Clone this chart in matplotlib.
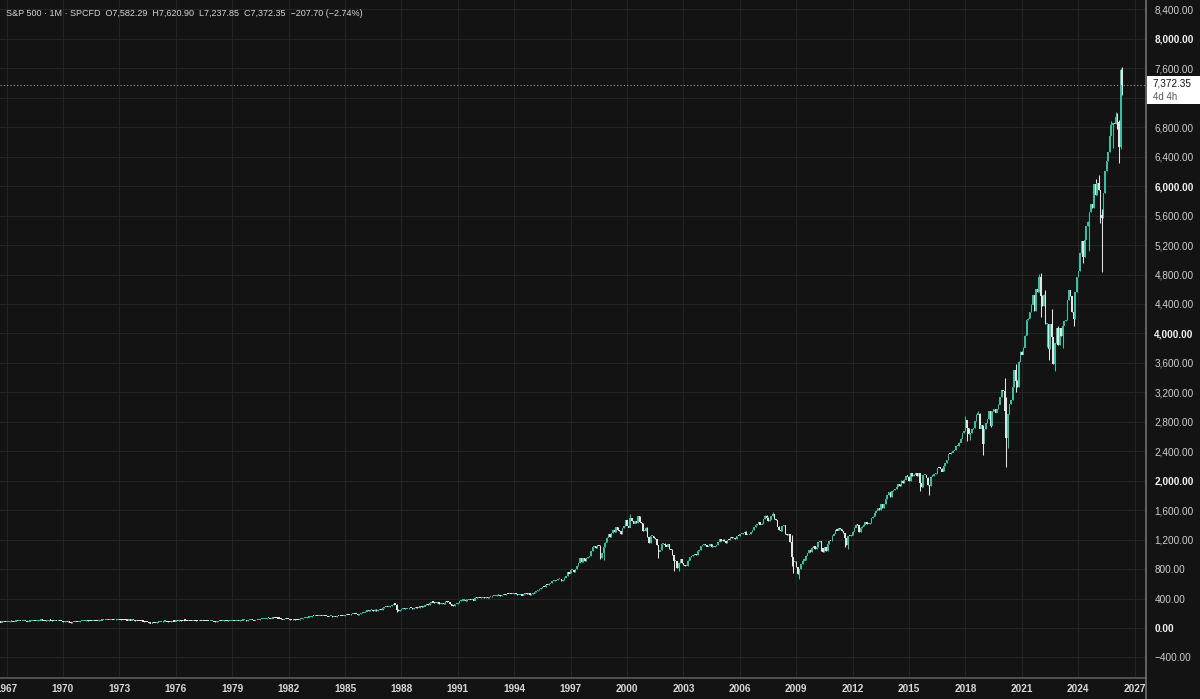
import numpy as np
import pandas as pd
import matplotlib
matplotlib.use('Agg')
import matplotlib.pyplot as plt
from matplotlib.patches import Rectangle
from matplotlib.lines import Line2D

plt.rcParams['font.family'] = ['Liberation Sans', 'DejaVu Sans']

# S&P 500 monthly closes, Aug 1966 .. May 2026
first_open = 83.60
close_1960s = [77.10, 76.56, 80.20, 80.45, 80.33,
               86.61, 86.78, 90.20, 94.01, 89.08, 90.64, 94.75, 93.64, 96.71, 93.90, 94.00, 96.47,
               92.24, 89.36, 90.20, 97.59, 98.68, 99.58, 97.74, 98.86, 102.67, 103.41, 108.37, 103.86,
               103.01, 98.13, 101.51, 103.69, 103.46, 97.71, 91.83, 95.51, 93.12, 97.24, 93.81, 92.06]
close_1970s = [85.02, 89.50, 89.63, 81.52, 76.55, 72.72, 78.05, 81.52, 84.21, 83.25, 87.20, 92.15,
               95.88, 96.75, 100.31, 103.95, 99.63, 98.70, 95.58, 99.03, 98.34, 94.23, 93.99, 102.09,
               103.94, 106.57, 107.20, 107.67, 109.53, 107.14, 107.39, 111.09, 110.55, 111.58, 116.67, 118.05,
               116.03, 111.68, 111.52, 106.97, 104.95, 104.26, 108.22, 104.25, 108.43, 108.29, 95.96, 97.55,
               96.57, 96.22, 93.98, 90.31, 87.28, 86.00, 79.31, 72.15, 63.54, 73.90, 69.97, 68.56,
               76.98, 81.59, 83.36, 87.30, 91.15, 95.19, 88.75, 86.88, 83.87, 89.04, 91.24, 90.19,
               100.86, 99.71, 102.77, 101.64, 100.18, 104.28, 103.44, 102.91, 105.24, 102.90, 102.10, 107.46,
               102.03, 99.82, 98.42, 98.44, 96.12, 100.48, 98.85, 96.77, 96.53, 92.34, 94.83, 95.10,
               89.25, 87.04, 89.21, 96.83, 97.24, 95.53, 100.68, 103.29, 102.54, 93.15, 94.70, 96.11,
               99.93, 96.28, 101.59, 101.76, 99.08, 102.91, 103.81, 109.32, 109.32, 101.82, 106.16, 107.94]
close_1980s = [114.16, 113.66, 102.09, 106.29, 111.24, 114.24, 121.67, 122.38, 125.46, 127.47, 140.52, 135.76,
               129.55, 131.27, 136.00, 132.81, 132.59, 131.21, 130.92, 122.79, 116.18, 121.89, 126.35, 122.55,
               120.40, 113.11, 111.96, 116.44, 111.88, 109.61, 107.09, 119.51, 120.42, 133.71, 138.54, 140.64,
               145.30, 148.06, 152.96, 164.42, 162.39, 168.11, 162.56, 164.40, 166.07, 163.55, 166.40, 164.93,
               163.41, 157.06, 159.18, 160.05, 150.55, 153.18, 150.66, 166.68, 166.10, 166.09, 163.58, 167.24,
               179.63, 181.18, 180.66, 179.83, 189.55, 191.85, 190.92, 188.63, 182.08, 189.82, 202.17, 211.28,
               211.78, 226.92, 238.90, 235.52, 247.35, 250.84, 236.12, 252.93, 231.32, 243.98, 249.22, 242.17,
               274.08, 284.20, 291.70, 288.36, 290.10, 304.00, 318.66, 329.80, 321.83, 251.79, 230.30, 247.08,
               257.07, 267.82, 258.89, 261.33, 262.16, 273.50, 272.02, 261.52, 271.91, 278.97, 273.70, 277.72,
               297.47, 288.86, 294.87, 309.64, 320.52, 317.98, 346.08, 351.45, 349.15, 340.36, 345.99, 353.40]
close_1990s = [329.08, 331.89, 339.94, 330.80, 361.23, 358.02, 356.15, 322.56, 306.05, 304.00, 322.22, 330.22,
               343.93, 367.07, 375.22, 375.35, 389.83, 371.16, 387.81, 395.43, 387.86, 392.46, 375.22, 417.09,
               408.79, 412.70, 403.69, 414.95, 415.35, 408.14, 424.21, 414.03, 417.80, 418.68, 431.35, 435.71,
               438.78, 443.38, 451.67, 440.19, 450.19, 450.53, 448.13, 463.56, 458.93, 467.83, 461.79, 466.45,
               481.61, 467.14, 445.77, 450.91, 456.50, 444.27, 458.26, 475.49, 462.69, 472.35, 453.69, 459.27,
               470.42, 487.39, 500.71, 514.71, 533.40, 544.75, 562.06, 561.88, 584.41, 581.50, 605.37, 615.93,
               636.02, 640.43, 645.50, 654.17, 669.12, 670.63, 639.95, 651.99, 687.33, 705.27, 757.02, 740.74,
               786.16, 790.82, 757.12, 801.34, 848.28, 885.14, 954.29, 899.47, 947.28, 914.62, 955.40, 970.43,
               980.28, 1049.34, 1101.75, 1111.75, 1090.82, 1133.84, 1120.67, 957.28, 1017.01, 1098.67, 1163.63, 1229.23,
               1279.64, 1238.33, 1286.37, 1335.18, 1301.84, 1372.71, 1328.72, 1320.41, 1282.71, 1362.93, 1388.91, 1469.25]
close_2000s = [1394.46, 1366.42, 1498.58, 1452.43, 1420.60, 1454.60, 1430.83, 1517.68, 1436.51, 1429.40, 1314.95, 1320.28,
               1366.01, 1239.94, 1160.33, 1249.46, 1255.82, 1224.42, 1211.23, 1133.58, 1040.94, 1059.78, 1139.45, 1148.08,
               1130.20, 1106.73, 1147.39, 1076.92, 1067.14, 989.82, 911.62, 916.07, 815.28, 885.76, 936.31, 879.82,
               855.70, 841.15, 848.18, 916.92, 963.59, 974.50, 990.31, 1008.01, 995.97, 1050.71, 1058.20, 1111.92,
               1131.13, 1144.94, 1126.21, 1107.30, 1120.68, 1140.84, 1101.72, 1104.24, 1114.58, 1130.20, 1173.82, 1211.92,
               1181.27, 1203.60, 1180.59, 1156.85, 1191.50, 1191.33, 1234.18, 1220.33, 1228.81, 1207.01, 1249.48, 1248.29,
               1280.08, 1280.66, 1294.87, 1310.61, 1270.09, 1270.20, 1276.66, 1303.82, 1335.85, 1377.94, 1400.63, 1418.30,
               1438.24, 1406.82, 1420.86, 1482.37, 1530.62, 1503.35, 1455.27, 1473.99, 1526.75, 1549.38, 1481.14, 1468.36,
               1378.55, 1330.63, 1322.70, 1385.59, 1400.38, 1280.00, 1267.38, 1282.83, 1166.36, 968.75, 896.24, 903.25,
               825.88, 735.09, 797.87, 872.81, 919.14, 919.32, 987.48, 1020.62, 1057.08, 1036.19, 1095.63, 1115.10]
close_2010s = [1073.87, 1104.49, 1169.43, 1186.69, 1089.41, 1030.71, 1101.60, 1049.33, 1141.20, 1183.26, 1180.55, 1257.64,
               1286.12, 1327.22, 1325.83, 1363.61, 1345.20, 1320.64, 1292.28, 1218.89, 1131.42, 1253.30, 1246.96, 1257.60,
               1312.41, 1365.68, 1408.47, 1397.91, 1310.33, 1362.16, 1379.32, 1406.58, 1440.67, 1412.16, 1416.18, 1426.19,
               1498.11, 1514.68, 1569.19, 1597.57, 1630.74, 1606.28, 1685.73, 1632.97, 1681.55, 1756.54, 1805.81, 1848.36,
               1782.59, 1859.45, 1872.34, 1883.95, 1923.57, 1960.23, 1930.67, 2003.37, 1972.29, 2018.05, 2067.56, 2058.90,
               1994.99, 2104.50, 2067.89, 2085.51, 2107.39, 2063.11, 2103.84, 1972.18, 1920.03, 2079.36, 2080.41, 2043.94,
               1940.24, 1932.23, 2059.74, 2065.30, 2096.95, 2098.86, 2173.60, 2170.95, 2168.27, 2126.15, 2198.81, 2238.83,
               2278.87, 2363.64, 2362.72, 2384.20, 2411.80, 2423.41, 2470.30, 2471.65, 2519.36, 2575.26, 2647.58, 2673.61,
               2823.81, 2713.83, 2640.87, 2648.05, 2705.27, 2718.37, 2816.29, 2901.52, 2913.98, 2711.74, 2760.17, 2506.85,
               2704.10, 2784.49, 2834.40, 2945.83, 2752.06, 2941.76, 2980.38, 2926.46, 2976.74, 3037.56, 3140.98, 3230.78]
close_2020s = [3225.52, 2954.22, 2584.59, 2912.43, 3044.31, 3100.29, 3271.12, 3500.31, 3363.00, 3269.96, 3621.63, 3756.07,
               3714.24, 3811.15, 3972.89, 4181.17, 4204.11, 4297.50, 4395.26, 4522.68, 4307.54, 4605.38, 4567.00, 4766.18,
               4515.55, 4373.94, 4530.41, 4131.93, 4132.15, 3785.38, 4130.29, 3955.00, 3585.62, 3871.98, 4080.11, 3839.50,
               4076.60, 3970.15, 4109.31, 4169.48, 4179.83, 4450.38, 4588.96, 4507.66, 4288.05, 4193.80, 4567.80, 4769.83,
               4845.65, 5096.27, 5254.35, 5035.69, 5277.51, 5460.48, 5522.30, 5648.40, 5762.48, 5705.45, 6032.38, 5881.63,
               6040.53, 5954.50, 5611.85, 5569.06, 5911.69, 6204.95, 6339.39, 6460.26, 6688.46, 6840.20, 6849.09, 6845.50,
               6939.00, 6880.00, 6530.00, 7580.05, 7372.35]

# visible wicks of notable months (high / low)
wick_high = {'1987-10': 328.94, '2000-03': 1552.87, '2007-10': 1576.09, '2008-10': 1264.80,
             '2018-01': 2872.87, '2018-09': 2940.91, '2020-02': 3393.52, '2020-03': 3136.72,
             '2020-09': 3588.11, '2021-11': 4743.83, '2021-12': 4808.93, '2022-01': 4818.62,
             '2022-04': 4593.45, '2022-08': 4325.28, '2022-12': 4100.96, '2024-12': 6099.97,
             '2025-02': 6147.43, '2025-04': 5695.31, '2025-10': 6890.89, '2026-01': 7002.00,
             '2026-02': 6990.00, '2026-03': 6900.00, '2026-04': 7600.00, '2026-05': 7620.90}
wick_low = {'1987-10': 216.46, '1998-08': 939.98, '1998-10': 923.32, '2001-09': 944.75,
            '2002-07': 775.68, '2002-10': 768.63, '2008-10': 839.80, '2008-11': 741.02,
            '2009-03': 666.79, '2010-05': 1040.78, '2011-08': 1101.54, '2011-10': 1074.77,
            '2015-08': 1867.01, '2016-02': 1810.10, '2018-02': 2532.69, '2018-04': 2553.80,
            '2018-12': 2346.58, '2019-05': 2728.81, '2020-02': 2855.84, '2020-03': 2191.86,
            '2020-04': 2447.49, '2020-09': 3209.45, '2021-09': 4305.91, '2022-01': 4222.62,
            '2022-05': 3810.32, '2022-06': 3636.87, '2022-09': 3584.13, '2022-10': 3491.58,
            '2023-03': 3808.86, '2023-10': 4103.78, '2024-04': 4953.56, '2024-08': 5119.26,
            '2025-03': 5504.65, '2025-04': 4835.04, '2025-11': 6521.92, '2026-02': 6770.00,
            '2026-03': 6316.00, '2026-04': 6500.00, '2026-05': 7237.85}

y_ticks = list(range(-400, 8401, 400))
x_ticks = list(range(1967, 2028, 3))

up_col = '#3cbea1'
down_col = '#e4e4e4'
bg = '#131313'

closes = np.array(close_1960s + close_1970s + close_1980s + close_1990s + close_2000s + close_2010s + close_2020s)
dates = pd.date_range('1966-08-01', periods=len(closes), freq='MS')
x = np.asarray(dates.year + (dates.month - 1) / 12.0)
opens = np.r_[first_open, closes[:-1]]
highs = np.maximum(opens, closes)
lows = np.minimum(opens, closes)
keys = dates.strftime('%Y-%m')
for i, k in enumerate(keys):
    if k in wick_high:
        highs[i] = max(highs[i], wick_high[k])
    if k in wick_low:
        lows[i] = min(lows[i], wick_low[k])
up = closes >= opens

fig = plt.figure(figsize=(12, 6.99), dpi=100)
fig.patch.set_facecolor(bg)
ax = fig.add_axes([0, 21 / 699, 1146 / 1200, 678 / 699])
ax.set_facecolor(bg)

# candles
w = 0.95 / 12
for m, col in ((up, up_col), (~up, down_col)):
    ax.vlines(x[m], lows[m], highs[m], color=col, lw=0.75, zorder=3)
    bot = np.minimum(opens[m], closes[m])
    hgt = np.maximum(np.abs(closes[m] - opens[m]), 15)
    ax.bar(x[m], hgt, bottom=bot - 3, width=w, color=col, linewidth=0, zorder=4)

# last price line
ax.axhline(7372.35, color='#9c9c9c', lw=0.8, ls=(0, (1, 2)), zorder=2)

ax.set_xlim(1966.65, 2027.6)
ax.set_ylim(-679, 8528)
ax.set_xticks(x_ticks)
ax.set_xticklabels([str(t) for t in x_ticks])
ax.set_yticks(y_ticks)
# 7,200 sits under the price tag
ax.set_yticklabels(['' if t == 7200 else ('\u2212' if t < 0 else '') + f'{abs(t):,.2f}' for t in y_ticks])
ax.yaxis.tick_right()
ax.grid(True, color='#242424', lw=0.8, zorder=0)
ax.tick_params(axis='y', length=0, pad=6, labelsize=7.2, labelcolor='#cfcfcf')
ax.tick_params(axis='x', length=0, pad=4.5, labelsize=7.2, labelcolor='#d8d8d8')
for lab in ax.get_xticklabels():
    lab.set_fontweight('bold')
for t, lab in zip(y_ticks, ax.get_yticklabels()):
    if t % 2000 == 0:
        lab.set_fontweight('bold')
        lab.set_color('#f2f2f2')
for s in ('top', 'left'):
    ax.spines[s].set_visible(False)
ax.spines['right'].set_color('#707070')
ax.spines['bottom'].set_color('#5c5c5c')
ax.spines['right'].set_linewidth(1.2)
ax.spines['bottom'].set_linewidth(1.2)
fig.add_artist(Line2D([1146 / 1200, 1146 / 1200], [0, 21 / 699], color='#707070', lw=1.2))

# price tag
fig.add_artist(Rectangle((1147 / 1200, (699 - 104) / 699), 53 / 1200, 28 / 699,
                         facecolor='#ffffff', edgecolor='none', zorder=5))
fig.text(1153 / 1200, (699 - 84) / 699, '7,372.35', color='#131313', fontsize=7.2, va='center', zorder=6)
fig.text(1153 / 1200, (699 - 97) / 699, '4d 4h', color='#555555', fontsize=7, va='center', zorder=6)

fig.text(6 / 1200, (699 - 13) / 699,
         'S&P 500 \u00b7 1M \u00b7 SPCFD  O7,582.29  H7,620.90  L7,237.85  C7,372.35  \u2212207.70 (\u22122.74%)',
         color='#d6d6d6', fontsize=6.5, va='center')

fig.savefig('out.png', dpi=100, facecolor=bg)
